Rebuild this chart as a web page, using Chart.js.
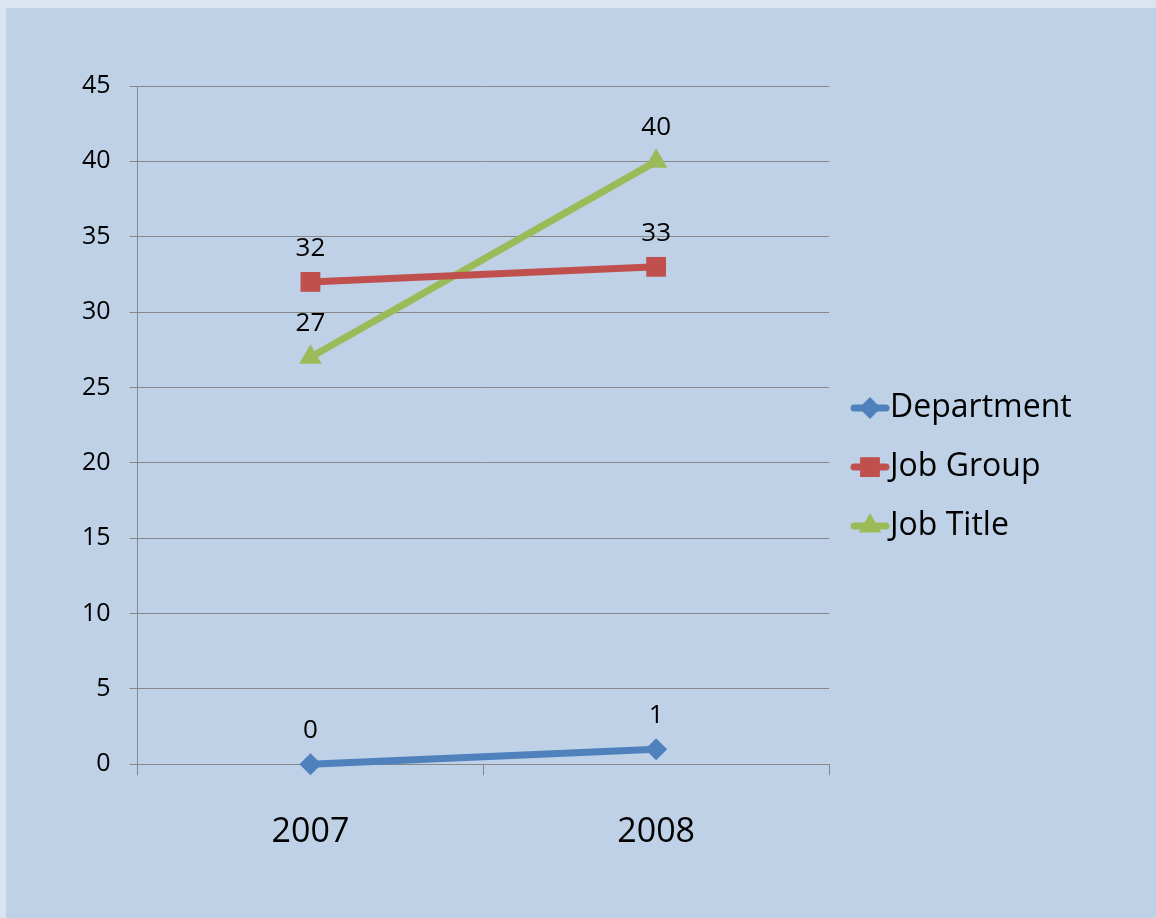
<!DOCTYPE html>
<html>
<head>
<meta charset="utf-8">
<script src="https://cdn.jsdelivr.net/npm/chart.js@4.4.1/dist/chart.umd.min.js"></script>
<style>
  html, body { margin: 0; padding: 0; background: #DBE5F1; }
  #wrap { position: absolute; left: 6px; top: 8px; width: 1150px; height: 910px; background: #BFD1E6; }
</style>
</head>
<body>
<div id="wrap"><canvas id="chart"></canvas></div>
<script>
const years = ['2007', '2008'];
const department = [0, 1];
const jobGroup = [32, 33];
const jobTitle = [27, 40];
const yMin = 0, yMax = 45, yStep = 5;

const FONT = '"Open Sans", "Noto Sans", sans-serif';
const gridColor = '#878787';

// values written above each point
const pointLabels = {
  id: 'pointLabels',
  afterDatasetsDraw(chart) {
    const ctx = chart.ctx;
    ctx.save();
    ctx.font = '26px ' + FONT;
    ctx.fillStyle = '#000';
    ctx.textAlign = 'center';
    ctx.textBaseline = 'alphabetic';
    chart.data.datasets.forEach((ds, i) => {
      chart.getDatasetMeta(i).data.forEach((pt, j) => {
        ctx.fillText(String(ds.data[j]), pt.x, pt.y - 26);
      });
    });
    ctx.restore();
  }
};

// excel-style legend: short line with the marker in the middle
const lineLegend = {
  id: 'lineLegend',
  afterDraw(chart) {
    const { ctx, chartArea } = chart;
    const x0 = chartArea.right + 22;
    const mid = (chartArea.top + chartArea.bottom) / 2 + 42;
    const rowH = 59;
    const n = chart.data.datasets.length;
    ctx.save();
    chart.data.datasets.forEach((ds, i) => {
      const y = mid + (i - (n - 1) / 2) * rowH;
      ctx.strokeStyle = ds.borderColor;
      ctx.lineWidth = 7;
      ctx.lineCap = 'round';
      ctx.beginPath();
      ctx.moveTo(x0 + 3, y);
      ctx.lineTo(x0 + 35, y);
      ctx.stroke();
      ctx.fillStyle = ds.backgroundColor;
      Chart.helpers.drawPoint(ctx, { pointStyle: ds.pointStyle, radius: ds.pointRadius, rotation: 0, borderWidth: 0 }, x0 + 19, y);
      ctx.fillStyle = '#000';
      ctx.font = '32px ' + FONT;
      ctx.textAlign = 'left';
      ctx.textBaseline = 'middle';
      ctx.fillText(ds.label, x0 + 39, y);
    });
    ctx.restore();
  }
};

const series = (label, data, color, style, r) => ({
  label, data,
  borderColor: color, backgroundColor: color,
  borderWidth: 7,
  pointStyle: style, pointRadius: r, pointHoverRadius: r,
  pointBorderWidth: 0,
  tension: 0,
  clip: false
});

new Chart(document.getElementById('chart'), {
  type: 'line',
  data: {
    labels: years,
    datasets: [
      series('Department', department, '#4F81BD', 'rectRot', 11),
      series('Job Group', jobGroup, '#C0504D', 'rect', 14),
      series('Job Title', jobTitle, '#9BBB59', 'triangle', 13)
    ]
  },
  options: {
    responsive: true,
    maintainAspectRatio: false,
    animation: false,
    layout: { padding: { left: 57, right: 327, top: 78, bottom: 28 } },
    scales: {
      x: {
        offset: true,
        grid: { offset: true, drawOnChartArea: false, tickLength: 11, color: gridColor },
        border: { color: gridColor },
        ticks: { color: '#000', font: { family: FONT, size: 34 }, padding: 37 }
      },
      y: {
        min: yMin, max: yMax,
        grid: { tickLength: 8, color: gridColor },
        border: { color: gridColor },
        ticks: { stepSize: yStep, color: '#000', font: { family: FONT, size: 25 }, padding: 19 }
      }
    },
    plugins: {
      legend: { display: false },
      tooltip: { enabled: false }
    }
  },
  plugins: [pointLabels, lineLegend]
});
</script>
</body>
</html>
